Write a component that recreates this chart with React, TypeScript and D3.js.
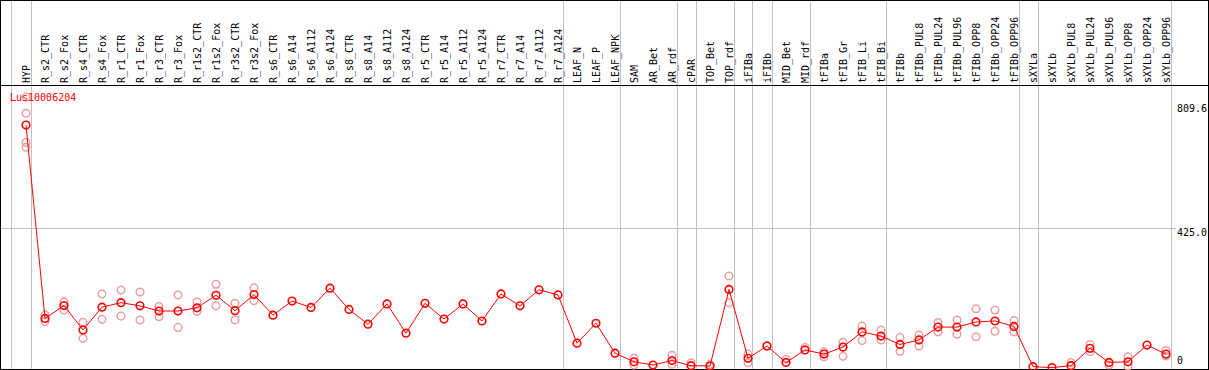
import React from "react";
import * as d3 from "d3";

const geneName = "Lus10006204";

const categories = [
  "HYP", "R_s2_CTR", "R_s2_Fox", "R_s4_CTR", "R_s4_Fox", "R_r1_CTR", "R_r1_Fox", "R_r3_CTR", "R_r3_Fox",
  "R_r1s2_CTR", "R_r1s2_Fox", "R_r3s2_CTR", "R_r3s2_Fox", "R_s6_CTR", "R_s6_A14", "R_s6_A112", "R_s6_A124",
  "R_s8_CTR", "R_s8_A14", "R_s8_A112", "R_s8_A124", "R_r5_CTR", "R_r5_A14", "R_r5_A112", "R_r5_A124",
  "R_r7_CTR", "R_r7_A14", "R_r7_A112", "R_r7_A124", "LEAF_N", "LEAF_P", "LEAF_NPK", "SAM", "AR_Bet", "AR_rdf",
  "cPAR", "TOP_Bet", "TOP_rdf", "iFIBa", "iFIBb", "MID_Bet", "MID_rdf", "tFIBa", "tFIB_Gr", "tFIB_Li", "tFIB_Bi",
  "tFIBb", "tFIBb_PUL8", "tFIBb_PUL24", "tFIBb_PUL96", "tFIBb_OPP8", "tFIBb_OPP24", "tFIBb_OPP96",
  "sXYLa", "sXYLb", "sXYLb_PUL8", "sXYLb_PUL24", "sXYLb_PUL96", "sXYLb_OPP8", "sXYLb_OPP24", "sXYLb_OPP96",
];

const means = [
  744, 143, 183, 107, 178, 192, 182, 166, 166,
  176, 215, 167, 217, 153, 197, 177, 237,
  171, 125, 188, 97, 190, 141, 188, 135,
  219, 182, 232, 216, 66, 128, 35, 8, -2, 12,
  -4, -5, 233, 19, 57, 6, 45, 32, 54, 101, 88,
  62, 76, 116, 116, 132, 135, 118,
  -7, -10, -4, 50, 6, 8, 60, 32,
];

const replicates: number[][] = [
  [831, 781, 690, 675], [154, 133], [194, 169], [131, 81], [219, 140], [231, 150], [225, 138], [180, 148], [216, 115],
  [194, 165], [249, 182], [190, 138], [238, 198], [], [], [], [],
  [], [], [], [], [], [], [], [],
  [], [], [], [], [], [], [], [19, -2], [], [28, 0],
  [5], [0], [275, 192], [32, 5], [58], [16], [53], [39, 24], [69, 25], [119, 74], [107, 76],
  [84, 41], [91, 57], [130, 101], [138, 94], [173, 86], [169, 103], [136, 101],
  [], [], [6], [62, 40], [-2], [24, -5], [], [43, 26],
];

// indices after which a vertical separator is drawn (-1 = before first)
const groupEnds = [-1, 0, 28, 31, 34, 35, 37, 38, 39, 41, 45, 52, 53, 60];

const tickValues = [0, 425.0, 809.6];
const tickLabels = ["0", "425.0", "809.6"];
const gridValues = [425.0];

const W = 1209;
const H = 370;
const FONT = "'DejaVu Sans Mono', monospace";

export default function App() {
  const x = d3.scaleLinear().domain([0, categories.length - 1]).range([26, 1166]);
  const y = d3.scaleLinear().domain([0, 809.6]).range([364.4, 104]);

  const line = d3
    .line<number>()
    .x((_, i) => x(i))
    .y((d) => y(d));

  return (
    <svg
      width={W}
      height={H}
      style={{ position: "absolute", left: 0, top: 0, background: "#fff" }}
      fontFamily={FONT}
    >
      <rect x={0} y={0} width={W} height={H} fill="#fff" />
      {/* vertical separators */}
      {groupEnds.map((g) => {
        const xx = Math.round(x(g) + 4.5) + 0.5;
        return (
          <line key={"g" + g} x1={xx} x2={xx} y1={0} y2={H} stroke="#c0c0c0" strokeWidth={1} shapeRendering="crispEdges" />
        );
      })}
      {/* horizontal grid */}
      {gridValues.map((v) => {
        const yy = Math.round(y(v)) + 0.5;
        return (
          <line key={"h" + v} x1={0} x2={1176} y1={yy} y2={yy} stroke="#c0c0c0" strokeWidth={1} shapeRendering="crispEdges" />
        );
      })}
      {/* borders */}
      <line x1={0} x2={W} y1={0.5} y2={0.5} stroke="#000" shapeRendering="crispEdges" />
      <line x1={0} x2={W} y1={85.5} y2={85.5} stroke="#000" shapeRendering="crispEdges" />
      <line x1={0} x2={W} y1={369.5} y2={369.5} stroke="#000" shapeRendering="crispEdges" />
      <line x1={0.5} x2={0.5} y1={0} y2={H} stroke="#000" shapeRendering="crispEdges" />
      <line x1={1208.5} x2={1208.5} y1={0} y2={H} stroke="#000" shapeRendering="crispEdges" />

      {/* header labels */}
      {categories.map((c, i) => {
        const tx = x(i) + 4;
        const ty = 83;
        return (
          <text key={c} x={tx} y={ty} transform={`rotate(-90, ${tx}, ${ty})`} fontSize={10} fill="#000">
            {c}
          </text>
        );
      })}

      {/* right axis labels */}
      {tickValues.map((v, i) => (
        <text key={"t" + i} x={1177} y={v === 0 ? y(v) : y(v) + 8} fontSize={10} fill="#000">
          {tickLabels[i]}
        </text>
      ))}

      {/* replicates */}
      {replicates.map((reps, i) =>
        reps.map((v, j) => (
          <circle key={`r${i}-${j}`} cx={x(i)} cy={y(v)} r={3.8} fill="none" stroke="#e8a0a0" strokeWidth={1.5} />
        ))
      )}

      {/* mean line */}
      <path d={line(means) || ""} fill="none" stroke="#ff0000" strokeWidth={1} />
      {means.map((v, i) => (
        <circle key={"m" + i} cx={x(i)} cy={y(v)} r={3.8} fill="none" stroke="#ff0000" strokeWidth={1.6} />
      ))}

      <text x={10} y={101} fontSize={10} fill="#ff0000">
        {geneName}
      </text>
    </svg>
  );
}
